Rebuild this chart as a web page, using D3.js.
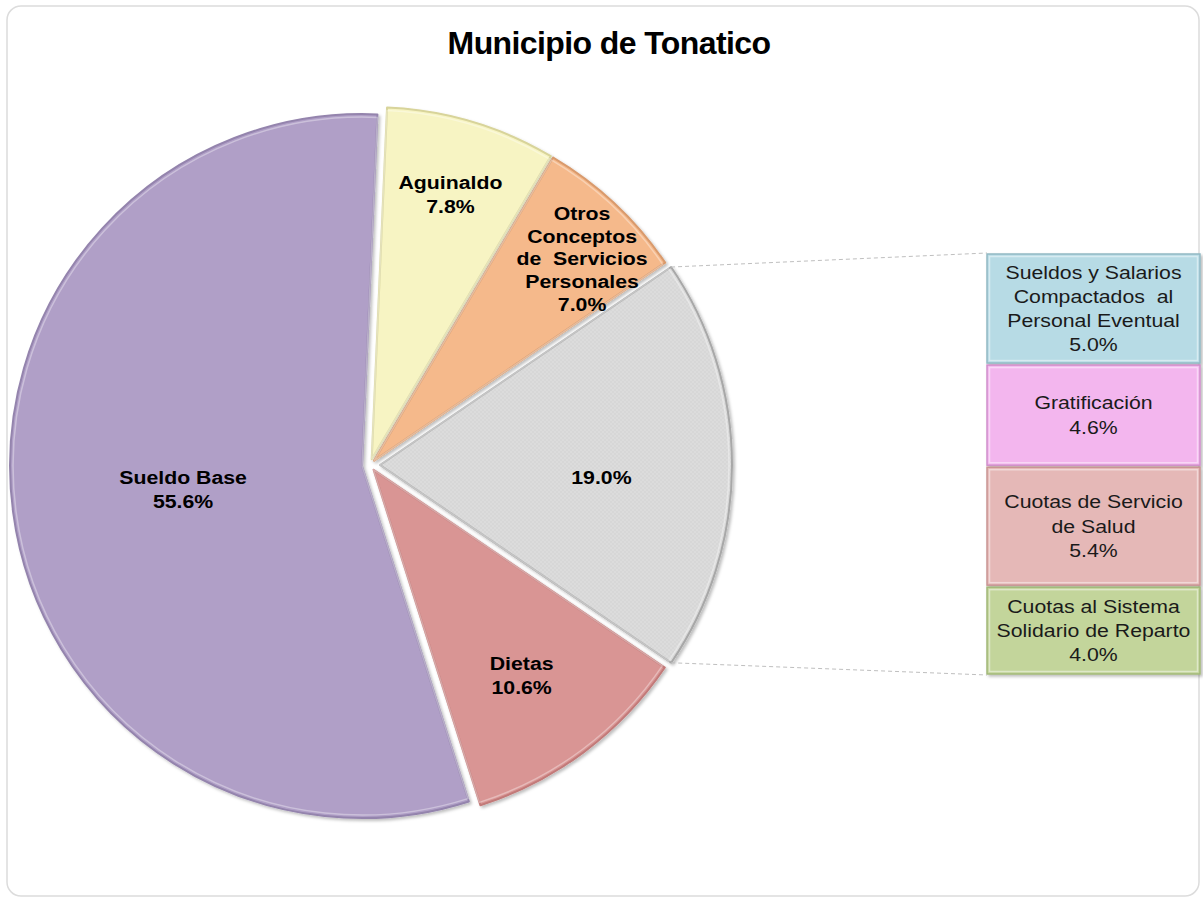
<!DOCTYPE html>
<html><head><meta charset="utf-8">
<script src="https://cdn.jsdelivr.net/npm/d3@7"></script>
<style>html,body{margin:0;padding:0;background:#fff;}svg{display:block;}</style>
</head><body>
<svg id="chart" width="1203" height="901"></svg>
<script>
// ---- data ----
const title = "Municipio de Tonatico";
const pieCategories = ["Aguinaldo", "Otros Conceptos de Servicios Personales", "Otros", "Dietas", "Sueldo Base"];
const pieLabelLines = [["Aguinaldo"], ["Otros", "Conceptos", "de  Servicios", "Personales"], [], ["Dietas"], ["Sueldo Base"]];
const pieValues = [7.8, 7.0, 19.0, 10.6, 55.6];
const barCategories = ["Sueldos y Salarios Compactados al Personal Eventual", "Gratificación", "Cuotas de Servicio de Salud", "Cuotas al Sistema Solidario de Reparto"];
const barLabelLines = [["Sueldos y Salarios", "Compactados  al", "Personal Eventual"], ["Gratificación"], ["Cuotas de Servicio", "de Salud"], ["Cuotas al Sistema", "Solidario de Reparto"]];
const barValues = [5.0, 4.6, 5.4, 4.0];

// ---- styles / layout ----
const pieColors = ["#f7f4c3", "#f5b98b", "url(#dots)", "#d99594", "#b09fc7"];
const pieStroke = ["#d8d49a", "#d99a6c", "#a8a8a8", "#c27a79", "#9484ad"];
const barColors = ["#b7dbe5", "#f3b6ee", "#e5b8b7", "#c3d59b"];
const barStroke = ["#93b9c4", "#d08fcb", "#c99594", "#a2b878"];
const labelRadius = [0.786, 0.823, 0.63, 0.72, 0.513];
const labelAngleShift = [0, 2.7, 3.3, 1, 0];
const explodeBy = [6, 6, 10, 6, 8];
const otherIndex = 2;

const svg = d3.select("#chart");
const cx = 370, cy = 465, R = 352;
const rot = 2.5 * Math.PI / 180;

const defs = svg.append("defs");
const pat = defs.append("pattern").attr("id", "dots").attr("width", 4).attr("height", 4).attr("patternUnits", "userSpaceOnUse");
pat.append("rect").attr("width", 4).attr("height", 4).attr("fill", "#d7d7d7");
pat.append("circle").attr("cx", 1).attr("cy", 1).attr("r", 0.7).attr("fill", "#e6e6e6");
pat.append("circle").attr("cx", 3).attr("cy", 3).attr("r", 0.7).attr("fill", "#e6e6e6");
const sh = defs.append("filter").attr("id", "shadow").attr("x", "-10%").attr("y", "-10%").attr("width", "120%").attr("height", "120%");
sh.append("feDropShadow").attr("dx", 2).attr("dy", 2).attr("stdDeviation", 1.5).attr("flood-color", "#000").attr("flood-opacity", 0.25);

// frame
svg.append("rect").attr("x", 7).attr("y", 6).attr("width", 1192).attr("height", 890)
  .attr("rx", 14).attr("fill", "#fff").attr("stroke", "#dcdcdc").attr("stroke-width", 1.5);

// title
svg.append("text").attr("x", 609).attr("y", 54).attr("text-anchor", "middle")
  .attr("font-family", "'Liberation Sans', Arial, sans-serif").attr("font-weight", "bold")
  .attr("font-size", 32).attr("letter-spacing", -0.6).attr("fill", "#000").text(title);

// pie
const pie = d3.pie().sort(null).value(d => d).startAngle(rot).endAngle(rot + 2 * Math.PI);
const arcs = pie(pieValues);
const arc = d3.arc().innerRadius(0).outerRadius(R);
const off = (a, i) => { const m = (a.startAngle + a.endAngle) / 2; const e = explodeBy[i]; return [e * Math.sin(m), -e * Math.cos(m)]; };

const g = svg.append("g").attr("transform", `translate(${cx},${cy})`);
g.selectAll("path.slice").data(arcs).enter().append("path").attr("class", "slice")
  .attr("transform", (d, i) => `translate(${off(d, i)[0]},${off(d, i)[1]})`)
  .attr("d", arc)
  .attr("fill", (d, i) => pieColors[i])
  .attr("stroke", (d, i) => pieStroke[i]).attr("stroke-width", 2).attr("stroke-linejoin", "round")
  .attr("filter", "url(#shadow)");
g.selectAll("path.hl").data(arcs).enter().append("path").attr("class", "hl")
  .attr("transform", (d, i) => `translate(${off(d, i)[0]},${off(d, i)[1]})`)
  .attr("d", d3.arc().innerRadius(0).outerRadius(R - 3))
  .attr("fill", "none").attr("stroke", "#fff").attr("stroke-opacity", 0.35).attr("stroke-width", 1.5);

// pie labels
const fmt = v => v.toFixed(1) + "%";
arcs.forEach((a, i) => {
  const m = (a.startAngle + a.endAngle) / 2 + labelAngleShift[i] * Math.PI / 180;
  const r = R * labelRadius[i];
  const o = off(a, i);
  const x = cx + o[0] + r * Math.sin(m), y = cy + o[1] - r * Math.cos(m);
  const lines = pieLabelLines[i].concat([fmt(pieValues[i])]);
  const lh = lines.length > 2 ? 22.6 : 24;
  const t = svg.append("text").attr("text-anchor", "middle")
    .attr("transform", `translate(${x},${y}) scale(1.15,1)`)
    .attr("font-family", "'Liberation Sans', Arial, sans-serif").attr("font-weight", "bold")
    .attr("font-size", 18.5).attr("fill", "#000").style("white-space", "pre");
  lines.forEach((l, k) => {
    t.append("tspan").attr("x", 0).attr("y", (k - (lines.length - 1) / 2) * lh + 6.5).text(l);
  });
});

// bar of pie
const barX = 987, barW = 213;
const total = d3.sum(barValues);
const y = d3.scaleLinear().domain([0, total]).range([253, 675]);
const stacked = [];
let acc = 0;
barValues.forEach((v, i) => { stacked.push({ i, y0: acc, y1: acc + v, v }); acc += v; });

const bg = svg.append("g");
bg.selectAll("rect.seg").data(stacked).enter().append("rect").attr("class", "seg")
  .attr("x", barX).attr("y", d => y(d.y0) + 1).attr("width", barW).attr("height", d => y(d.y1) - y(d.y0) - 2)
  .attr("fill", d => barColors[d.i]).attr("stroke", d => barStroke[d.i]).attr("stroke-width", 1.5)
  .attr("filter", "url(#shadow)");
bg.selectAll("rect.hl").data(stacked).enter().append("rect").attr("class", "hl")
  .attr("x", barX + 2.5).attr("y", d => y(d.y0) + 3.5).attr("width", barW - 5).attr("height", d => y(d.y1) - y(d.y0) - 7)
  .attr("fill", "none").attr("stroke", "#fff").attr("stroke-opacity", 0.45).attr("stroke-width", 1.5);

stacked.forEach(d => {
  const lines = barLabelLines[d.i].concat([fmt(d.v)]);
  const lh = 24.3;
  const mid = (y(d.y0) + y(d.y1)) / 2;
  const t = svg.append("text").attr("text-anchor", "middle")
    .attr("transform", `translate(${barX + barW / 2},${mid}) scale(1.15,1)`)
    .attr("font-family", "'Liberation Sans', Arial, sans-serif")
    .attr("font-size", 18.5).attr("fill", "#1a1a1a").style("white-space", "pre");
  lines.forEach((l, k) => {
    t.append("tspan").attr("x", 0).attr("y", (k - (lines.length - 1) / 2) * lh + 6.5).text(l);
  });
});

// connector lines from the "Otros" slice corners to the bar corners
const oa = arcs[otherIndex];
const oo = off(oa, otherIndex);
const p1 = [cx + oo[0] + R * Math.sin(oa.startAngle), cy + oo[1] - R * Math.cos(oa.startAngle)];
const p2 = [cx + oo[0] + R * Math.sin(oa.endAngle), cy + oo[1] - R * Math.cos(oa.endAngle)];
svg.append("line").attr("x1", p1[0]).attr("y1", p1[1]).attr("x2", barX).attr("y2", y(0))
  .attr("stroke", "#bfbfbf").attr("stroke-width", 1).attr("stroke-dasharray", "4,3");
svg.append("line").attr("x1", p2[0]).attr("y1", p2[1]).attr("x2", barX).attr("y2", y(total))
  .attr("stroke", "#bfbfbf").attr("stroke-width", 1).attr("stroke-dasharray", "4,3");
</script>
</body></html>
